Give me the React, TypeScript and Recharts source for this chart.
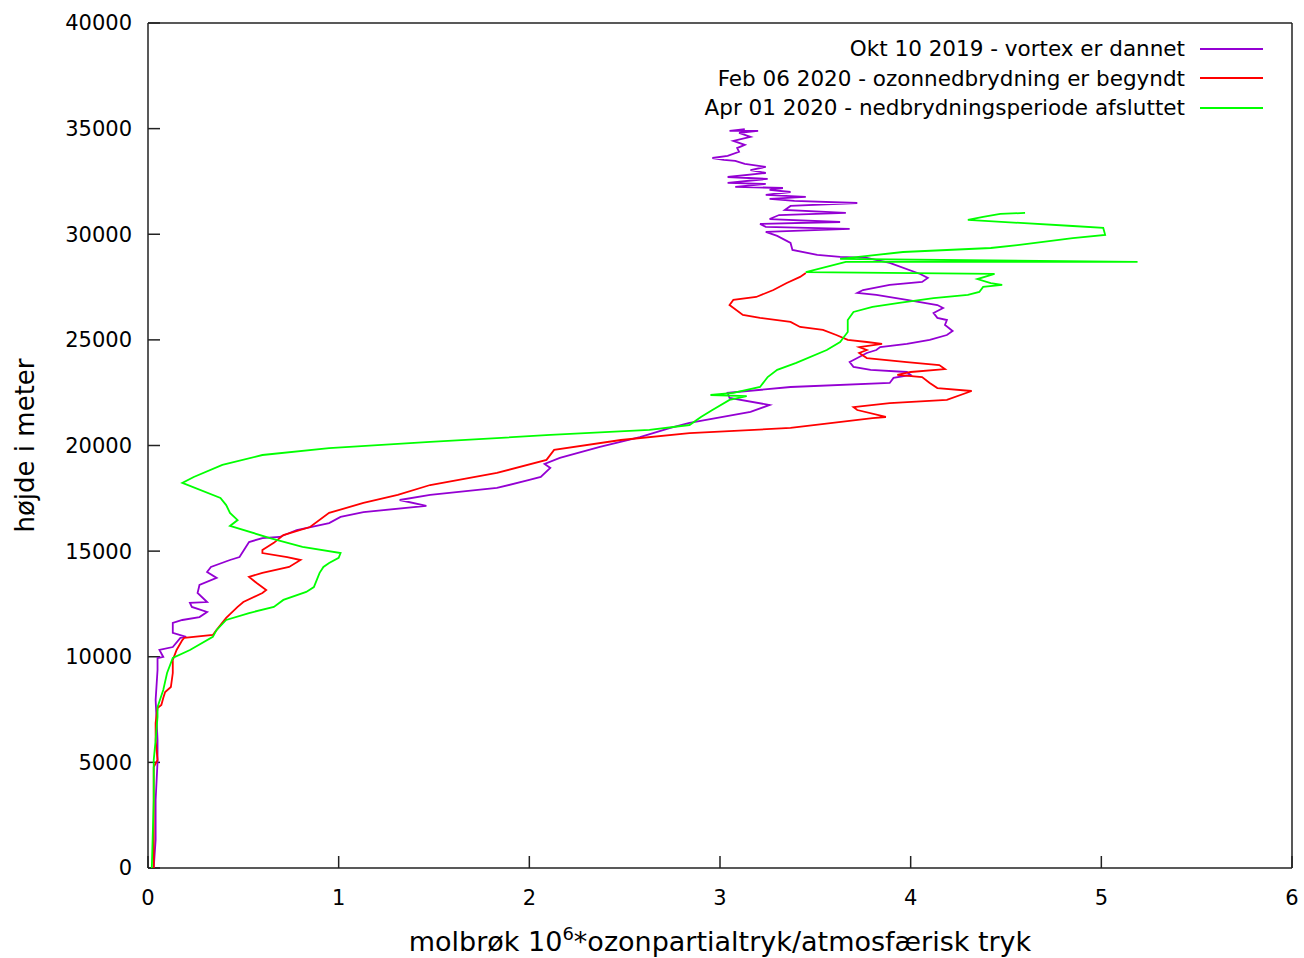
import { ScatterChart, Scatter, XAxis, YAxis, Legend } from "recharts";

const OKT_2019: [number, number][] = [
  [0.03, 0], [0.04, 1330], [0.04, 3220], [0.05, 5020], [0.05, 6060], [0.04, 7950],
  [0.05, 9370], [0.05, 9940], [0.08, 9990], [0.06, 10320], [0.13, 10460], [0.17, 10890],
  [0.2, 10940], [0.13, 11130], [0.13, 11600], [0.18, 11740], [0.27, 11880], [0.31, 12120],
  [0.23, 12360], [0.22, 12550], [0.31, 12590], [0.26, 13020], [0.27, 13400], [0.36, 13730],
  [0.31, 14010], [0.33, 14250], [0.43, 14580], [0.48, 14720], [0.51, 15150], [0.53, 15430],
  [0.6, 15620], [0.69, 15670], [0.78, 16000], [0.95, 16330], [1.01, 16620], [1.13, 16850],
  [1.46, 17140], [1.32, 17420], [1.48, 17660], [1.83, 17990], [2.0, 18370], [2.06, 18510],
  [2.11, 18940], [2.08, 19130], [2.16, 19410], [2.37, 19930], [2.58, 20400], [2.74, 20830],
  [2.84, 21070], [3.16, 21590], [3.26, 21920], [3.05, 22250], [3.04, 22490], [3.37, 22770],
  [3.89, 22960], [3.91, 23200], [4.0, 23340], [3.98, 23480], [3.79, 23580], [3.7, 23720],
  [3.68, 23950], [3.77, 24380], [3.82, 24520], [3.84, 24660], [3.98, 24810], [4.1, 25000],
  [4.19, 25230], [4.22, 25420], [4.18, 25710], [4.19, 25940], [4.14, 26040], [4.12, 26270],
  [4.17, 26510], [4.14, 26650], [3.98, 26890], [3.82, 27130], [3.72, 27220], [3.75, 27360],
  [3.89, 27600], [4.06, 27740], [4.09, 27930], [4.05, 28120], [3.89, 28640], [3.77, 28880],
  [3.63, 28930], [3.51, 29020], [3.38, 29260], [3.37, 29590], [3.3, 29920], [3.24, 30110],
  [3.68, 30250], [3.24, 30350], [3.21, 30490], [3.63, 30580], [3.26, 30720], [3.31, 30910],
  [3.66, 31010], [3.34, 31150], [3.37, 31340], [3.72, 31480], [3.39, 31580], [3.26, 31670],
  [3.45, 31770], [3.24, 31860], [3.37, 32000], [3.26, 32100], [3.33, 32190], [3.08, 32240],
  [3.24, 32380], [3.04, 32430], [3.25, 32620], [3.04, 32710], [3.24, 32900], [3.16, 33040],
  [3.24, 33190], [3.13, 33330], [3.08, 33470], [3.02, 33520], [2.96, 33610], [3.04, 33710],
  [3.1, 33900], [3.09, 34080], [3.13, 34230], [3.07, 34420], [3.16, 34610], [3.1, 34800],
  [3.2, 34890], [3.05, 34890], [3.13, 34980],
];

const FEB_2020: [number, number][] = [
  [0.03, 0], [0.03, 3220], [0.03, 4780], [0.05, 5110], [0.04, 6060], [0.04, 6860],
  [0.05, 7570], [0.07, 7720], [0.08, 8050], [0.09, 8330], [0.12, 8570], [0.13, 9230],
  [0.13, 9850], [0.15, 10320], [0.18, 10790], [0.19, 10890], [0.34, 11030], [0.36, 11270],
  [0.41, 11840], [0.47, 12360], [0.5, 12590], [0.6, 13020], [0.62, 13160], [0.57, 13490],
  [0.53, 13780], [0.6, 13970], [0.74, 14250], [0.8, 14580], [0.73, 14720], [0.6, 14910],
  [0.6, 15050], [0.66, 15390], [0.71, 15760], [0.85, 16140], [0.95, 16810], [1.13, 17280],
  [1.31, 17660], [1.48, 18130], [1.83, 18700], [2.09, 19320], [2.13, 19790], [2.48, 20260],
  [2.84, 20590], [3.37, 20830], [3.8, 21300], [3.87, 21350], [3.72, 21680], [3.7, 21820],
  [3.89, 22010], [4.19, 22160], [4.32, 22580], [4.14, 22720], [4.1, 22960], [4.06, 23240],
  [3.93, 23340], [4.0, 23480], [4.18, 23620], [4.15, 23810], [3.98, 23950], [3.77, 24140],
  [3.73, 24380], [3.77, 24520], [3.73, 24660], [3.85, 24810], [3.77, 24900], [3.67, 25000],
  [3.61, 25230], [3.54, 25470], [3.42, 25610], [3.37, 25850], [3.21, 26040], [3.12, 26180],
  [3.05, 26650], [3.07, 26890], [3.19, 27030], [3.28, 27360], [3.35, 27690], [3.42, 27980],
  [3.45, 28170],
];

const APR_2020: [number, number][] = [
  [0.02, 0], [0.03, 3220], [0.03, 5110], [0.04, 6060], [0.05, 7150], [0.05, 7620],
  [0.08, 8430], [0.1, 9230], [0.13, 9940], [0.22, 10320], [0.34, 10940], [0.36, 11270],
  [0.41, 11740], [0.53, 12070], [0.66, 12360], [0.71, 12690], [0.83, 13070], [0.87, 13300],
  [0.9, 13970], [0.92, 14250], [0.95, 14440], [1.0, 14680], [1.01, 14910], [0.81, 15200],
  [0.64, 15620], [0.43, 16190], [0.47, 16470], [0.43, 16810], [0.41, 17180], [0.38, 17520],
  [0.18, 18230], [0.24, 18510], [0.39, 19080], [0.6, 19550], [0.95, 19880], [1.48, 20170],
  [2.11, 20500], [2.63, 20740], [2.84, 20970], [2.9, 21350], [2.96, 21680], [3.05, 22160],
  [3.14, 22340], [2.95, 22390], [3.07, 22490], [3.21, 22770], [3.25, 23240], [3.3, 23580],
  [3.4, 23910], [3.56, 24520], [3.63, 24900], [3.65, 25140], [3.67, 25370], [3.67, 25940],
  [3.7, 26320], [3.8, 26560], [3.94, 26750], [4.12, 26980], [4.3, 27130], [4.36, 27270],
  [4.38, 27510], [4.48, 27600], [4.42, 27690], [4.35, 27880], [4.44, 28120], [3.45, 28210],
  [3.66, 28690], [5.19, 28690], [3.63, 28830], [3.96, 29160], [4.42, 29350], [4.56, 29490],
  [4.85, 29820], [5.02, 29970], [5.01, 30300], [4.85, 30390], [4.3, 30680], [4.38, 30820],
  [4.47, 30960], [4.6, 31010],
];

const X_TICKS = [0, 1, 2, 3, 4, 5, 6];
const Y_TICKS = [0, 5000, 10000, 15000, 20000, 25000, 30000, 35000, 40000];

const SERIES = [
  { name: "Okt 10 2019 - vortex er dannet", color: "#9400d3", points: OKT_2019 },
  { name: "Feb 06 2020 - ozonnedbrydning er begyndt", color: "#ff0000", points: FEB_2020 },
  { name: "Apr 01 2020 - nedbrydningsperiode afsluttet", color: "#00ff00", points: APR_2020 },
];

const AXIS_LINE = { stroke: "#222", strokeWidth: 1.5 };
const TICK_TEXT = { fontSize: 21, fill: "#000" };

function XTitle(props: any) {
  const vb = props.viewBox ?? { x: 148, y: 868, width: 1144, height: 90 };
  return (
    <text x={vb.x + vb.width / 2} y={vb.y + 83} textAnchor="middle" fontSize={27} fill="#000">
      molbrøk 10
      <tspan dy={-11} fontSize={18}>6</tspan>
      <tspan dy={11}>*ozonpartialtryk/atmosfærisk tryk</tspan>
    </text>
  );
}

function YTitle(props: any) {
  const vb = props.viewBox ?? { x: 0, y: 23, width: 148, height: 845 };
  const cx = vb.x + 25;
  const cy = vb.y + vb.height / 2;
  return (
    <text
      x={cx}
      y={cy}
      transform={`rotate(-90, ${cx}, ${cy})`}
      textAnchor="middle"
      dominantBaseline="central"
      fontSize={26}
      fill="#000"
    >
      højde i meter
    </text>
  );
}

function renderLegend(props: any) {
  const payload: any[] = props.payload ?? [];
  const order = SERIES.map((s) => s.name);
  const rows = payload
    .filter((entry) => order.includes(entry.value))
    .sort((a, b) => order.indexOf(a.value) - order.indexOf(b.value));
  return (
    <div style={{ paddingRight: 41 }}>
      {rows.map((entry) => (
        <div
          key={entry.value}
          style={{
            display: "flex",
            justifyContent: "flex-end",
            alignItems: "center",
            height: 29.5,
            fontSize: 21.5,
            color: "#000",
          }}
        >
          <span>{entry.value}</span>
          <svg width={63} height={4} style={{ marginLeft: 15 }}>
            <line x1={0} y1={2} x2={63} y2={2} stroke={entry.color} strokeWidth={1.8} />
          </svg>
        </div>
      ))}
    </div>
  );
}

export default function App() {
  return (
    <div
      style={{
        position: "fixed",
        left: 0,
        top: 0,
        width: 1304,
        height: 958,
        background: "#fff",
        fontFamily: "'DejaVu Sans', sans-serif",
      }}
    >
      <ScatterChart width={1304} height={958} margin={{ top: 22, right: 11, bottom: 0, left: 0 }}>
        <XAxis
          type="number"
          dataKey="v"
          domain={[0, 6]}
          ticks={X_TICKS}
          allowDataOverflow
          height={90}
          axisLine={AXIS_LINE}
          tickLine={AXIS_LINE}
          tickSize={-12}
          tickMargin={34}
          tick={TICK_TEXT}
          label={{ content: XTitle }}
        />
        <XAxis
          xAxisId="top"
          orientation="top"
          type="number"
          dataKey="v"
          domain={[0, 6]}
          ticks={X_TICKS}
          allowDataOverflow
          height={1}
          axisLine={AXIS_LINE}
          tickLine={AXIS_LINE}
          tickSize={-12}
          tick={false}
        />
        <YAxis
          type="number"
          dataKey="h"
          domain={[0, 40000]}
          ticks={Y_TICKS}
          allowDataOverflow
          width={148}
          axisLine={AXIS_LINE}
          tickLine={AXIS_LINE}
          tickSize={-12}
          tickMargin={28}
          tick={TICK_TEXT}
          label={{ content: YTitle }}
        />
        <YAxis
          yAxisId="right"
          orientation="right"
          type="number"
          dataKey="h"
          domain={[0, 40000]}
          ticks={Y_TICKS}
          allowDataOverflow
          width={1}
          axisLine={AXIS_LINE}
          tickLine={AXIS_LINE}
          tickSize={-12}
          tick={false}
        />
        <Legend
          layout="vertical"
          align="center"
          verticalAlign="middle"
          wrapperStyle={{ left: 0, top: 34, width: 1304 }}
          content={renderLegend}
        />
        {SERIES.map((s) => (
          <Scatter
            key={s.name}
            name={s.name}
            data={s.points.map(([v, h]) => ({ v, h }))}
            fill={s.color}
            line={{ stroke: s.color, strokeWidth: 1.8 }}
            lineType="joint"
            shape={() => <g />}
            isAnimationActive={false}
          />
        ))}
        {/* invisible twin so the mirrored top/right border axes get drawn */}
        <Scatter
          name="border"
          xAxisId="top"
          yAxisId="right"
          data={SERIES[0].points.map(([v, h]) => ({ v, h }))}
          legendType="none"
          shape={() => <g />}
          isAnimationActive={false}
        />
      </ScatterChart>
    </div>
  );
}
